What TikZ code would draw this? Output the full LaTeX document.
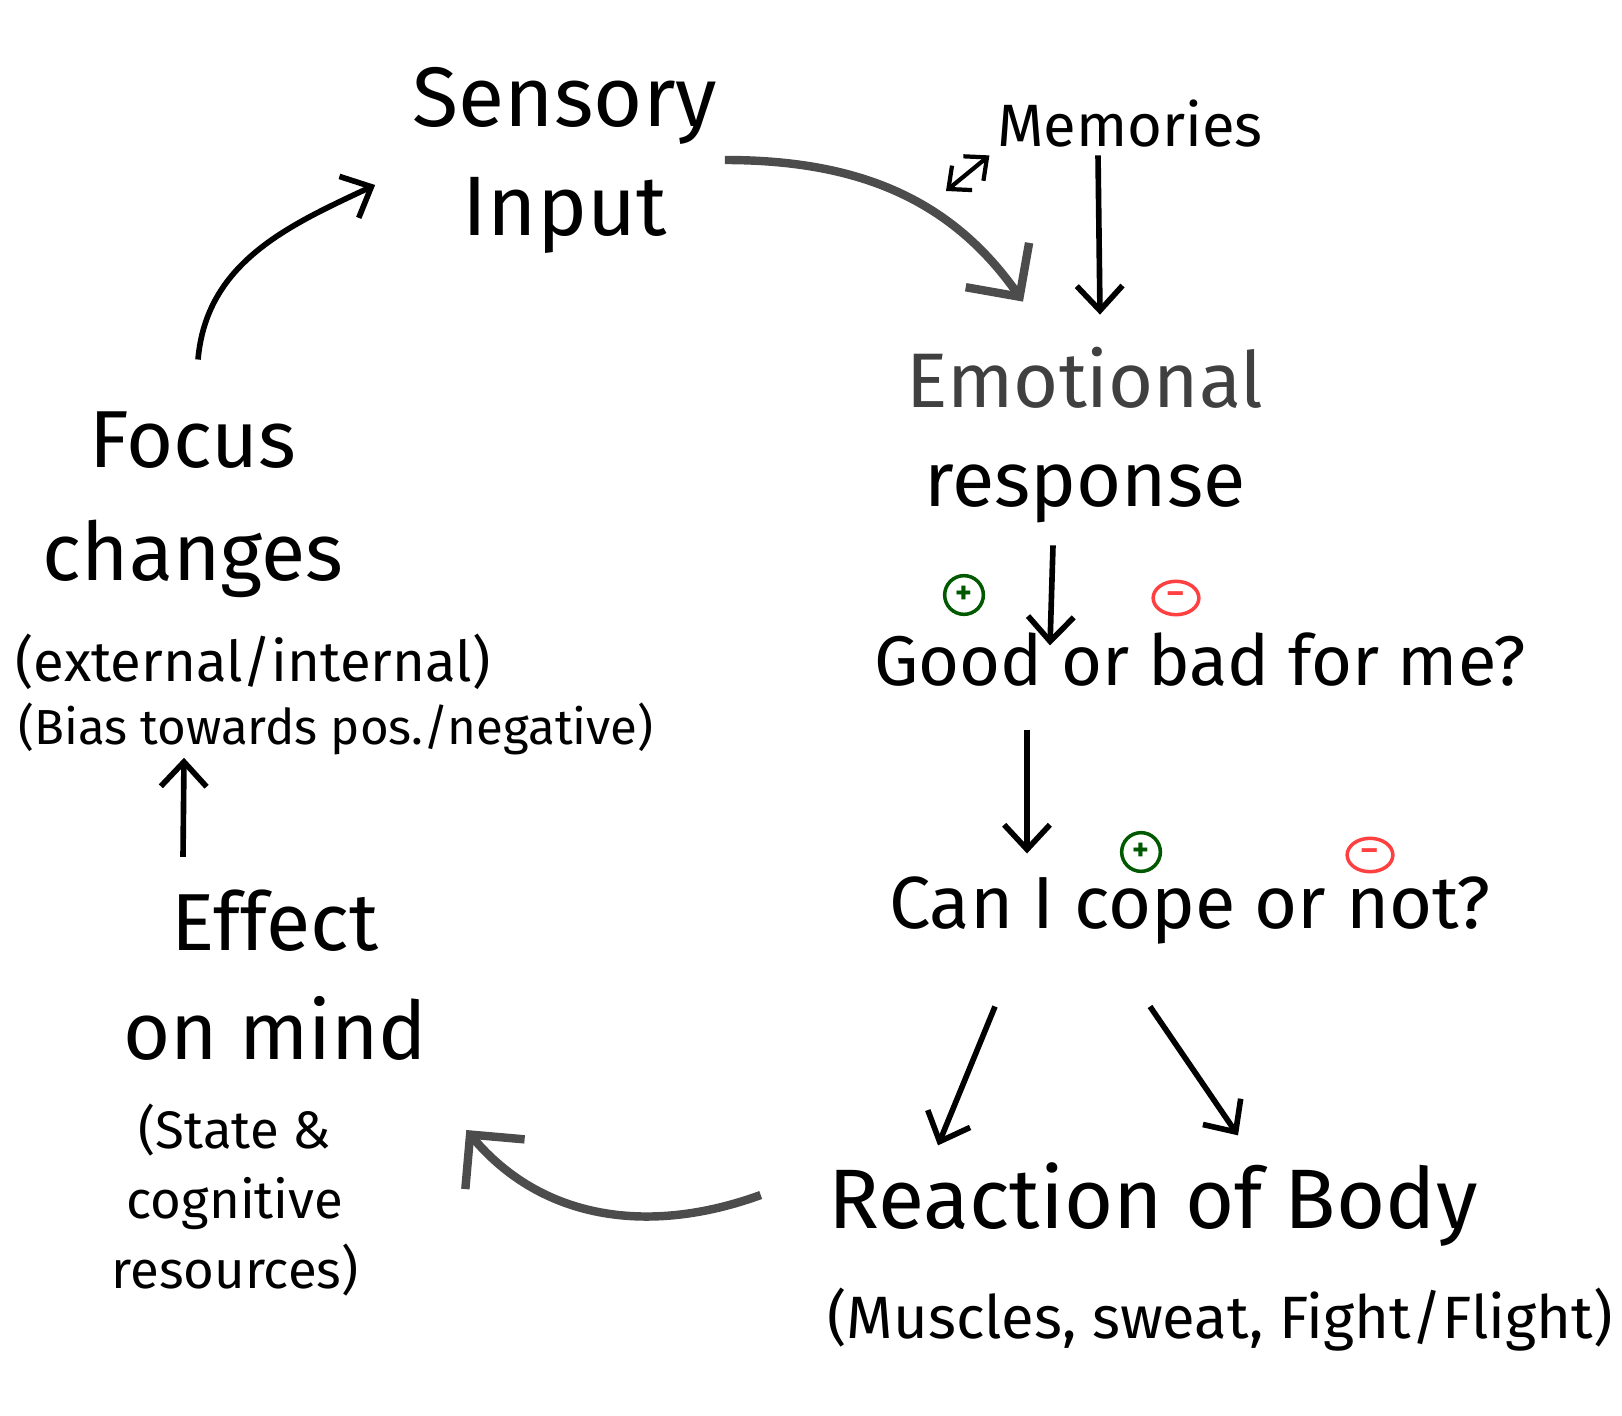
\documentclass[tikz,border=0pt]{standalone}
\usepackage{fontspec}
\setmainfont{Fira Sans}
\usetikzlibrary{arrows.meta,calc,shapes.geometric}
\tikzset{
  big/.style={font=\fontsize{24}{31}\selectfont, align=center, inner sep=2pt},
  mid/.style={font=\fontsize{20}{26}\selectfont, align=center, inner sep=2pt},
  small/.style={font=\fontsize{15}{20}\selectfont, align=center, inner sep=2pt},
  arr/.style={-{Straight Barb[length=7pt,width=13pt]}, line width=1.6pt},
  bigarr/.style={-{Straight Barb[length=11pt,width=22pt]}, line width=2.4pt, draw=black!70},
  pluscirc/.style={circle, draw=green!35!black, text=green!35!black, line width=1pt, inner sep=0pt, minimum size=11pt, font=\small\bfseries},
  minuscirc/.style={ellipse, draw=red!75, text=red!75, line width=1pt, inner sep=0pt, minimum width=13pt, minimum height=9.5pt, font=\small\bfseries},
}
\begin{document}
\begin{tikzpicture}[x=0.01cm,y=-0.01cm]
  \useasboundingbox (0,0) rectangle (1622,1416);
  % the nodes of the cycle
  \node[big] (sensory) at (565,160) {Sensory\\Input};
  \node[mid, font=\fontsize{17}{20}\selectfont] (memories) at (1130,124) {Memories};
  \node[big, font=\fontsize{22}{28}\selectfont] (emotional) at (1085,435) {{\color{black!75}Emotional}\\response};
  \node[mid] (good) at (1200,660) {Good or bad for me?};
  \node[mid, font=\fontsize{21}{26}\selectfont] (cope) at (1190,910) {Can I cope or not?};
  \node[big] (reaction) at (1153,1205) {Reaction of Body};
  \node[mid, font=\fontsize{17}{20}\selectfont] (reactionsub) at (1220,1320) {(Muscles, sweat, Fight/Flight)};
  \node[big, font=\fontsize{23}{31}\selectfont] (effect) at (275,975) {Effect\\on mind};
  \node[small] (effectsub) at (235,1200) {(State \&\\cognitive\\resources)};
  \node[big, font=\fontsize{23}{32}\selectfont] (focus) at (193,505) {Focus\\changes};
  \node[small, font=\fontsize{16}{19}\selectfont] (focussub) at (253,662) {(external/internal)};
  \node[small, font=\fontsize{14}{17}\selectfont] (biassub) at (336,729) {(Bias towards pos./negative)};
  % plus and minus marks
  \node[pluscirc] (plusgood) at (964,595) {+};
  \node[minuscirc] (minusbad) at (1176,598) {--};
  \node[pluscirc] (pluscope) at (1141,852) {+};
  \node[minuscirc] (minusnot) at (1370,855) {--};
  \coordinate (memlink) at (946,191);
  % connectors
  \draw[bigarr] (sensory.east) to[out=0,in=125] ($(emotional.north)+(-62,-38)$);
  \draw[arr] ($(memories.south)+(-32,0)$) -- ($(emotional.north)+(15,-25)$);
  \draw[arr, {Straight Barb[length=5pt,width=9pt]}-{Straight Barb[length=5pt,width=9pt]}, line width=1.2pt] (memories.south west) -- (memlink);
  \draw[arr] ($(emotional.south)+(-32,15)$) -- ($(good.north)+(-150,20)$);
  \draw[arr] ($(good.south)+(-173,35)$) -- ($(cope.north)+(-163,-15)$);
  \draw[arr] ($(cope.south)+(-195,55)$) -- ($(reaction.north)+(-215,-10)$);
  \draw[arr] ($(cope.south)+(-40,55)$) -- ($(reaction.north)+(85,-20)$);
  \draw[bigarr] ($(reaction.west)+(-60,-10)$) to[out=200,in=-50] ($(effectsub.east)+(100,-70)$);
  \draw[arr] ($(effect.north)+(-92,-25)$) -- ($(biassub.south)+(-152,-5)$);
  \draw[arr] (focus.north) ++(5,-45) to[out=85,in=205] ($(sensory.west)+(-30,25)$);
\end{tikzpicture}
\end{document}
